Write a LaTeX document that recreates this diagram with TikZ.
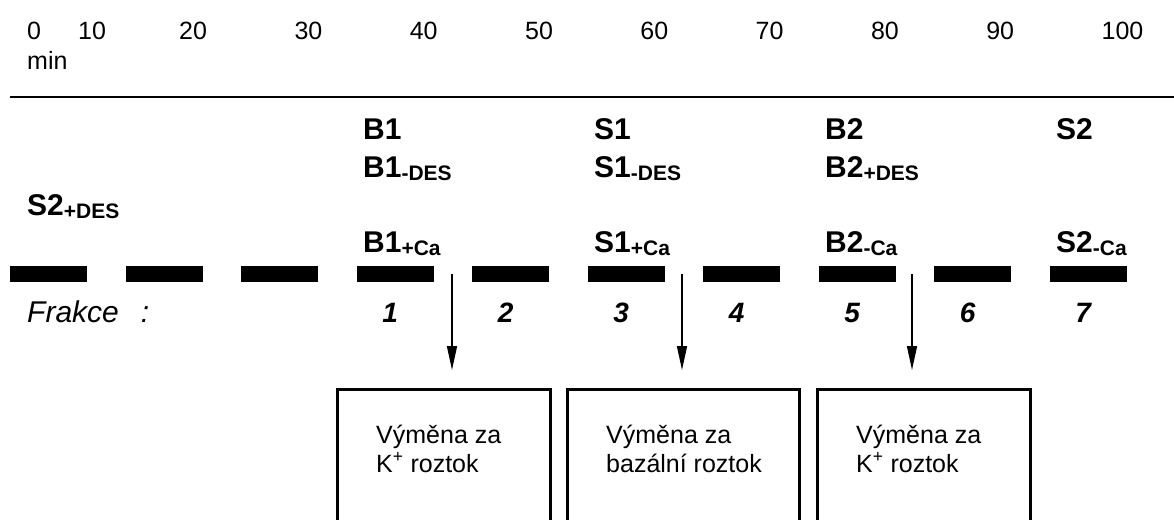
\documentclass[tikz,border=0pt]{standalone}
\usepackage{fontspec}
\setmainfont{Liberation Sans}
\usepackage{tikz}
\usetikzlibrary{arrows.meta,positioning,calc}

\newcommand{\lowtag}[1]{\raisebox{-3pt}{\fontsize{21}{21}\selectfont #1}}

\begin{document}
\begin{tikzpicture}[x=1pt,y=1pt,
    tick/.style={anchor=base west,inner sep=0pt,font=\fontsize{25}{30}\selectfont},
    lab/.style={anchor=base west,inner sep=0pt,font=\fontsize{30}{36}\selectfont\bfseries},
    frac/.style={anchor=base,inner sep=0pt,font=\fontsize{28}{34}\selectfont\bfseries\itshape},
    bar/.style={fill=black,inner sep=0pt,minimum width=77pt,minimum height=16pt,anchor=north west},
    exbox/.style={draw,line width=2.5pt,inner sep=0pt,minimum width=213pt,minimum height=200pt,anchor=north west},
    boxtxt/.style={anchor=base west,inner sep=0pt,align=left,font=\fontsize{25}{29}\selectfont}]
  \useasboundingbox (0,0) rectangle (1174,-519);
  \clip (0,0) rectangle (1174,-519);
  \def\colsep{115.5}
  % --- time axis ---
  \node[tick] (t0) at (27,-40) {0};
  \node[tick] (t10) at (78,-40) {10};
  \foreach \v [count=\i] in {20,30,40,50,60,70,80,90,100}
    \node[tick] (t\v) at ({179+(\i-1)*115.3},-40) {\v};
  \node[tick] (tmin) at (27,-70) {min};
  \draw[line width=1.5pt] (10,-97) -- (1174,-97);
  % --- solutions ---
  \node[lab] (b1) at (363,-139) {B1};
  \node[lab] (b1des) at (363,-177) {B1\lowtag{-DES}};
  \node[lab] (b1ca) at (363,-252) {B1\lowtag{+Ca}};
  \node[lab] (s1) at (594,-139) {S1};
  \node[lab] (s1des) at (594,-177) {S1\lowtag{-DES}};
  \node[lab] (s1ca) at (594,-252) {S1\lowtag{+Ca}};
  \node[lab] (b2) at (825,-139) {B2};
  \node[lab] (b2des) at (825,-177) {B2\lowtag{+DES}};
  \node[lab] (b2ca) at (825,-252) {B2\lowtag{-Ca}};
  \node[lab] (s2) at (1056,-139) {S2};
  \node[lab] (s2ca) at (1056,-252) {S2\lowtag{-Ca}};
  \node[lab] (s2des) at (27,-215) {S2\lowtag{+DES}};
  % --- fractions ---
  \foreach \i in {1,...,10}
    \node[bar] (d\i) at ({10+(\i-1)*\colsep},-266) {};
  \node[anchor=base west,inner sep=0pt,font=\fontsize{30}{36}\selectfont\itshape] (frakce) at (27,-322) {Frakce\hspace{22pt}:};
  \foreach \n in {1,...,7} {
    \pgfmathtruncatemacro{\k}{\n+3}
    \node[frac] (f\n) at ($(d\k.south)+(-5,-40)$) {\n};
  }
  % --- exchanges ---
  \node[exbox] (box1) at (336,-388) {};
  \node[exbox,minimum width=232pt] (box2) at (566,-388) {};
  \node[exbox] (box3) at (816,-388) {};
  \node[boxtxt] (txt1) at ($(box1.north west)+(40,-84)$) {Výměna za\\K\textsuperscript{+} roztok};
  \node[boxtxt] (txt2) at ($(box2.north west)+(40,-84)$) {Výměna za\\bazální roztok};
  \node[boxtxt] (txt3) at ($(box3.north west)+(40,-84)$) {Výměna za\\K\textsuperscript{+} roztok};
  \foreach \b/\x in {1/452,2/682,3/912} {
    \coordinate (g\b) at (\x,-274);
    \draw[line width=1.5pt,-{Triangle[length=24pt,width=10pt]},shorten >=18pt]
      (g\b) -- (g\b |- box\b.north);
  }
\end{tikzpicture}
\end{document}
